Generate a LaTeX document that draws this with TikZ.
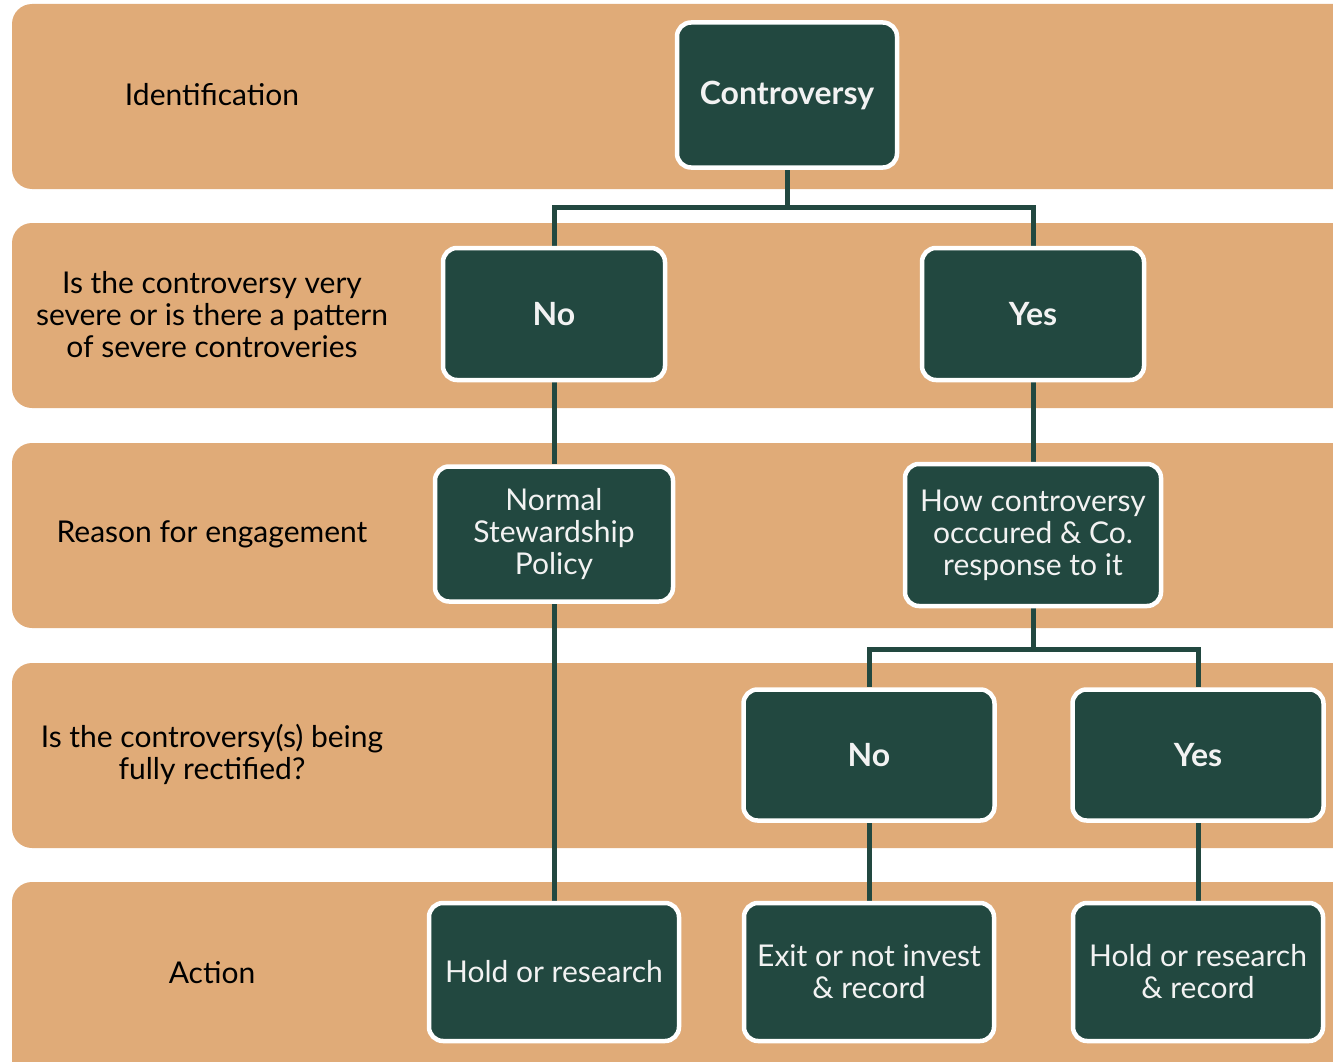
\documentclass[tikz,border=0pt]{standalone}
\usepackage{fontspec}
\setmainfont{Lato}
\usetikzlibrary{backgrounds}
\definecolor{Sand}{HTML}{E0AB78}
\definecolor{Pine}{HTML}{224840}
\definecolor{Chalk}{HTML}{F2F2F2}
\tikzset{
  band/.style={fill=Sand, rounded corners=20pt},
  stage/.style={font=\fontsize{30}{32}\selectfont, align=center, text=black},
  choice/.style={
    rounded corners=14pt, draw=white, line width=4.5pt, fill=Pine,
    text=Chalk, align=center, inner sep=0pt,
    font=\fontsize{30}{32}\selectfont
  },
  answer/.style={choice, font=\fontsize{32}{32}\selectfont\bfseries},
  link/.style={draw=Pine, line width=5pt}
}

\begin{document}
\begin{tikzpicture}[x=1pt,y=-1pt]
  \useasboundingbox (0,0) rectangle (1333,1062);
  % stage bands
  \begin{scope}[on background layer]
    \fill[band] (12,4) rectangle (1380,189);
    \fill[band] (12,223) rectangle (1380,408);
    \fill[band] (12,443) rectangle (1380,628);
    \fill[band] (12,663) rectangle (1380,848);
    \fill[band] (12,882) rectangle (1380,1100);
  \end{scope}
  % stage labels
  \node[stage] (lid) at (212,95) {Identification};
  \node[stage] (lsev) at (212,315) {Is the controversy very\\severe or is there a pattern\\of severe controveries};
  \node[stage] (lwhy) at (212,534) {Reason for engagement};
  \node[stage] (lfix) at (212,754) {Is the controversy(s) being\\fully rectified?};
  \node[stage] (lact) at (212,973) {Action};
  % decision boxes
  \node[answer, minimum width=220pt, minimum height=145pt] (ctr) at (787,95) {Controversy};
  \node[answer, minimum width=222pt, minimum height=132pt] (no1) at (554,314) {No};
  \node[answer, minimum width=222pt, minimum height=132pt] (yes1) at (1033,314) {Yes};
  \node[choice, minimum width=238pt, minimum height=135pt] (norm) at (554,534) {Normal\\Stewardship\\Policy};
  \node[choice, minimum width=256pt, minimum height=142pt] (how) at (1033,535) {How controversy\\occcured \& Co.\\response to it};
  \node[answer, minimum width=251pt, minimum height=131pt] (no2) at (869,755) {No};
  \node[answer, minimum width=251pt, minimum height=131pt] (yes2) at (1198,755) {Yes};
  \node[choice, minimum width=250pt, minimum height=138pt] (hold) at (554,972) {Hold or research};
  \node[choice, minimum width=250pt, minimum height=138pt] (exit) at (869,972) {Exit or not invest\\\& record};
  \node[choice, minimum width=250pt, minimum height=138pt] (holdrec) at (1198,972) {Hold or research\\\& record};
  % connectors
  \begin{scope}[on background layer]
    \draw[link] (ctr.south) -- ++(0,38) -| (no1.north);
    \draw[link] (ctr.south) -- ++(0,38) -| (yes1.north);
    \draw[link] (no1.south) -- (norm.north);
    \draw[link] (yes1.south) -- (how.north);
    \draw[link] (norm.south) -- (hold.north);
    \draw[link] (how.south) -- ++(0,41) -| (no2.north);
    \draw[link] (how.south) -- ++(0,41) -| (yes2.north);
    \draw[link] (no2.south) -- (exit.north);
    \draw[link] (yes2.south) -- (holdrec.north);
  \end{scope}
\end{tikzpicture}
\end{document}
